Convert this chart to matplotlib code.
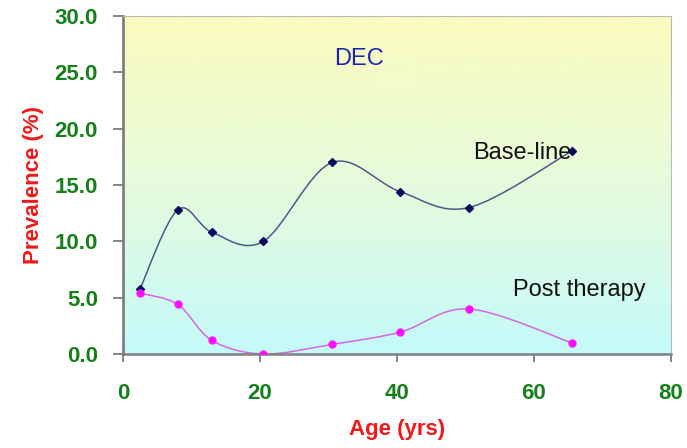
import numpy as np
import matplotlib
matplotlib.use("Agg")
import matplotlib.pyplot as plt
from matplotlib.path import Path
from matplotlib.patches import PathPatch
from matplotlib.colors import LinearSegmentedColormap

plt.rcParams['font.family'] = ['Liberation Sans', 'DejaVu Sans']

# data
age = [2.5, 8, 13, 20.5, 30.5, 40.5, 50.5, 65.5]
baseline = [5.8, 12.8, 10.8, 10.0, 17.0, 14.4, 13.0, 18.0]
post_therapy = [5.4, 4.4, 1.2, 0.0, 0.85, 1.95, 4.0, 1.0]
x_ticks = [0, 20, 40, 60, 80]
y_ticks = [0, 5, 10, 15, 20, 25, 30]


def smooth_path(xs, ys):
    # Excel-style smoothed line: cubic Bezier segments (Catmull-Rom control points)
    p = np.column_stack([xs, ys]).astype(float)
    n = len(p)
    verts = [p[0]]
    codes = [Path.MOVETO]
    for i in range(n - 1):
        prev = p[i - 1] if i > 0 else p[i]
        nxt = p[i + 2] if i + 2 < n else p[i + 1]
        c1 = p[i] + (p[i + 1] - prev) / 6.0
        c2 = p[i + 1] - (nxt - p[i]) / 6.0
        verts += [c1, c2, p[i + 1]]
        codes += [Path.CURVE4] * 3
    return Path(verts, codes)


fig = plt.figure(figsize=(6.87, 4.48), dpi=100)
ax = fig.add_axes([123 / 687, 1 - 354 / 448, 548 / 687, 338 / 448])

grad = LinearSegmentedColormap.from_list('bg', ['#c4fafa', '#e6fbdc', '#fbfbbe'])
ax.imshow(np.linspace(0, 1, 256).reshape(-1, 1), extent=[0, 80, 0, 30],
          aspect='auto', origin='lower', cmap=grad, zorder=0)

ax.add_patch(PathPatch(smooth_path(age, baseline), fill=False,
                       edgecolor='#4a5a88', lw=1.1, zorder=2))
ax.add_patch(PathPatch(smooth_path(age, post_therapy), fill=False,
                       edgecolor='#d468e0', lw=1.1, zorder=2))
ax.plot(age, baseline, ls='none', marker='D', ms=4.2, color='#0a0a60', zorder=3)
ax.plot(age, post_therapy, ls='none', marker='o', ms=5, color='#ff10ff', zorder=3)

ax.set_xlim(0, 80)
ax.set_ylim(0, 30)
ax.set_xticks(x_ticks)
ax.set_xticklabels([str(v) for v in x_ticks])
ax.set_yticks(y_ticks)
ax.set_yticklabels([f"{v:.1f}" for v in y_ticks])

for lbl in ax.get_xticklabels() + ax.get_yticklabels():
    lbl.set_color('#14801a')
    lbl.set_fontweight('bold')
    lbl.set_fontsize(16)
ax.tick_params(axis='y', length=7, width=1.2, color='#707070', pad=11)
ax.tick_params(axis='x', length=6, width=1.2, color='#707070', pad=15)

ax.spines['left'].set_color('#808080')
ax.spines['left'].set_linewidth(2)
ax.spines['bottom'].set_color('#808080')
ax.spines['bottom'].set_linewidth(1.8)
ax.spines['top'].set_color('#b8b8b8')
ax.spines['right'].set_color('#b8b8b8')

ax.set_xlabel('Age (yrs)', color='#f01818', fontweight='bold', fontsize=16, labelpad=11)
ax.set_ylabel('Prevalence (%)', color='#f01818', fontweight='bold', fontsize=16, labelpad=8)

ax.text(34.5, 26.2, 'DEC', color='#1c24b0', fontsize=17, ha='center', va='center')
ax.text(51.1, 17.8, 'Base-line', color='#111111', fontsize=17, ha='left', va='center')
ax.text(57.0, 5.7, 'Post therapy', color='#111111', fontsize=17, ha='left', va='center')

fig.savefig('out.png', dpi=100)
